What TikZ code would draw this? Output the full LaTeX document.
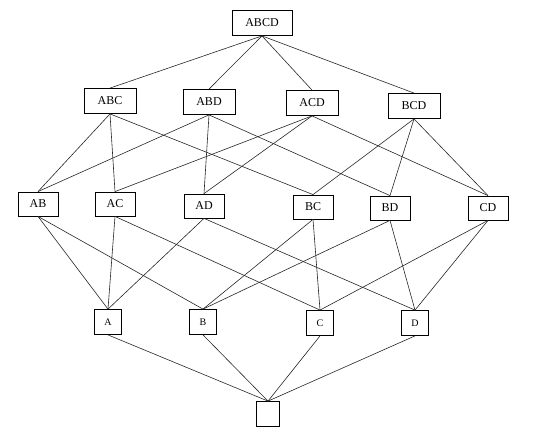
\documentclass[tikz,border=0pt]{standalone}
\usepackage{fontspec}
\setmainfont{Liberation Serif}
\usetikzlibrary{positioning}
\tikzset{
  box/.style={draw, line width=0.8pt, inner sep=0pt, minimum height=25pt, font=\fontsize{12}{14}\selectfont},
  box4/.style={box, minimum width=60pt},
  box3/.style={box, minimum width=52pt},
  box2/.style={box, minimum width=40pt, minimum height=24pt},
  box1/.style={box, minimum width=27pt, font=\fontsize{10}{12}\selectfont},
  box0/.style={box, minimum width=23pt},
  edge/.style={line width=0.6pt, black!85}
}

\begin{document}
\begin{tikzpicture}[x=1pt, y=-1pt]
  \useasboundingbox (0,0) rectangle (548,433);
  % top
  \node[box4] (ABCD) at (262,23) {ABCD};
  % three letters
  \node[box3] (ABC) at (110,101) {ABC};
  \node[box3] (ABD) at (209,102) {ABD};
  \node[box3] (ACD) at (312,103) {ACD};
  \node[box3] (BCD) at (414,106) {BCD};
  % two letters
  \node[box2] (AB) at (38,204) {AB};
  \node[box2] (AC) at (115,204) {AC};
  \node[box2] (AD) at (204,206) {AD};
  \node[box2] (BC) at (313,207) {BC};
  \node[box2] (BD) at (390,208) {BD};
  \node[box2] (CD) at (488,208) {CD};
  % one letter
  \node[box1] (A) at (108,322) {A};
  \node[box1] (B) at (203,322) {B};
  \node[box1] (C) at (320,323) {C};
  \node[box1] (D) at (415,323) {D};
  % empty set
  \node[box0] (E) at (268,414) {};

  \foreach \u/\v in {ABCD/ABC, ABCD/ABD, ABCD/ACD, ABCD/BCD,
                     ABC/AB, ABC/AC, ABC/BC, ABD/AB, ABD/AD, ABD/BD,
                     ACD/AC, ACD/AD, ACD/CD, BCD/BC, BCD/BD, BCD/CD,
                     AB/A, AB/B, AC/A, AC/C, AD/A, AD/D,
                     BC/B, BC/C, BD/B, BD/D, CD/C, CD/D,
                     A/E, B/E, C/E, D/E}
    \draw[edge] (\u.south) -- (\v.north);
\end{tikzpicture}
\end{document}
